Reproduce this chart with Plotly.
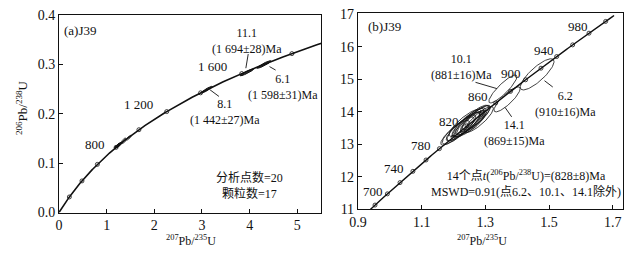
import numpy as np
import plotly.graph_objects as go

# ---------------- data ----------------
L238 = 1.55125e-10   # decay constant 238U
L235 = 9.8485e-10    # decay constant 235U

# concordia age marks (Ma)
left_mark_ages = [200, 400, 600, 800, 1000, 1200, 1400, 1600, 1800]
left_label_text = ["800", "1 200", "1 600"]
right_mark_ages = [680, 700, 720, 740, 760, 780, 800, 820, 840, 860, 880, 900,
                   920, 940, 960, 980, 1000]
right_label_ages = [700, 740, 780, 820, 860, 900, 940, 980]

# analysis ellipses (207Pb/235U, 206Pb/238U x100) - half extents and correlation
spot_name = ["c1", "c2", "c3", "c4", "c5", "c6", "c7", "c8", "c9", "c10", "c11", "c12",
             "c13", "c14", "10.1", "14.1", "6.2"]
pb207_u235 = [1.215, 1.225, 1.232, 1.240, 1.245, 1.250, 1.255, 1.258, 1.262, 1.268,
              1.272, 1.236, 1.280, 1.205, 1.355, 1.368, 1.4625]
err_207_235 = [0.050, 0.045, 0.055, 0.042, 0.050, 0.048, 0.045, 0.052, 0.040, 0.046,
               0.044, 0.050, 0.045, 0.045, 0.044, 0.041, 0.053]
pb206_u238 = [13.42, 13.50, 13.55, 13.60, 13.66, 13.62, 13.70, 13.74, 13.68, 13.78,
              13.82, 13.66, 13.76, 13.35, 14.70, 14.38, 15.15]
err_206_238 = [0.42, 0.40, 0.45, 0.38, 0.44, 0.40, 0.42, 0.46, 0.36, 0.40,
               0.38, 0.42, 0.40, 0.38, 0.43, 0.385, 0.48]
rho = [0.85, 0.85, 0.88, 0.83, 0.86, 0.84, 0.87, 0.86, 0.82, 0.85,
       0.84, 0.86, 0.85, 0.85, 0.88, 0.85, 0.82]

# old (inherited) grains, only in panel (a)
old_name = ["8.1", "11.1", "6.1"]
old_207_235 = [3.10, 3.94, 4.30]
old_err_207_235 = [0.12, 0.14, 0.15]
old_206_238 = [0.249, 0.284, 0.300]
old_err_206_238 = [0.0068, 0.0068, 0.0078]
old_rho = [0.93, 0.93, 0.93]

# ---------------- helpers ----------------
W, H = 626, 256


def conc(age_ma):
    t = np.asarray(age_ma, dtype=float) * 1e6
    return np.exp(L235 * t) - 1.0, np.exp(L238 * t) - 1.0


def ellipse(cx, cy, sx, sy, r, n=90):
    th = np.linspace(0, 2 * np.pi, n)
    x = cx + sx * np.cos(th)
    y = cy + sy * (r * np.cos(th) + np.sqrt(1 - r * r) * np.sin(th))
    return x, y


def P(px, py):
    return px / W, 1 - py / H


SERIF = "Liberation Serif, Times New Roman, serif"
CJK = "Liberation Serif, Noto Sans CJK SC"
BLACK = "#111111"

fig = go.Figure()

# ---------------- panel (a) ----------------
ages_a = np.linspace(0, 1950, 400)
cxa, cya = conc(ages_a)
fig.add_trace(go.Scatter(x=cxa, y=cya, mode="lines", line=dict(color=BLACK, width=1.6),
                         xaxis="x", yaxis="y", hoverinfo="skip"))
mx, my = conc(left_mark_ages)
fig.add_trace(go.Scatter(x=mx, y=my, mode="markers",
                         marker=dict(symbol="circle-open", size=4, color=BLACK, line=dict(width=0.8)),
                         xaxis="x", yaxis="y", hoverinfo="skip"))
for i in range(len(pb207_u235)):
    ex, ey = ellipse(pb207_u235[i], pb206_u238[i] / 100, err_207_235[i], err_206_238[i] / 100, rho[i])
    fig.add_trace(go.Scatter(x=ex, y=ey, mode="lines", line=dict(color=BLACK, width=0.8),
                             xaxis="x", yaxis="y", hoverinfo="skip"))
for i in range(len(old_name)):
    ex, ey = ellipse(old_207_235[i], old_206_238[i], old_err_207_235[i], old_err_206_238[i], old_rho[i])
    fig.add_trace(go.Scatter(x=ex, y=ey, mode="lines", line=dict(color=BLACK, width=1.0),
                             fill="toself", fillcolor="rgba(20,20,20,0.85)",
                             xaxis="x", yaxis="y", hoverinfo="skip"))

# ---------------- panel (b) ----------------
ages_b = np.linspace(640, 1010, 200)
cxb, cyb = conc(ages_b)
fig.add_trace(go.Scatter(x=cxb, y=cyb * 100, mode="lines", line=dict(color=BLACK, width=1.4),
                         xaxis="x2", yaxis="y2", hoverinfo="skip"))
mx2, my2 = conc(right_mark_ages)
fig.add_trace(go.Scatter(x=mx2, y=my2 * 100, mode="markers",
                         marker=dict(symbol="circle-open", size=4, color=BLACK, line=dict(width=0.8)),
                         xaxis="x2", yaxis="y2", hoverinfo="skip"))
for i in range(len(pb207_u235)):
    ex, ey = ellipse(pb207_u235[i], pb206_u238[i], err_207_235[i], err_206_238[i], rho[i])
    fig.add_trace(go.Scatter(x=ex, y=ey, mode="lines", line=dict(color=BLACK, width=0.8),
                             xaxis="x2", yaxis="y2", hoverinfo="skip"))

# ---------------- axes ----------------
axis_common = dict(showline=True, linecolor=BLACK, linewidth=1, mirror=True,
                   ticks="inside", ticklen=4, tickwidth=1, tickcolor=BLACK,
                   showgrid=False, zeroline=False,
                   tickfont=dict(family=SERIF, size=14, color=BLACK))

fig.update_layout(
    width=W, height=H,
    margin=dict(l=0, r=0, t=0, b=0, pad=0),
    paper_bgcolor="white", plot_bgcolor="white",
    showlegend=False,
    font=dict(family=SERIF, color=BLACK),
    xaxis=dict(domain=[50.7 / W, 316.7 / W], range=[0, 5.5], tickvals=[0, 1, 2, 3, 4, 5],
               anchor="y", **axis_common),
    yaxis=dict(domain=[1 - 218.3 / H, 1 - 8.7 / H], range=[0, 0.4],
               tickvals=[0, 0.1, 0.2, 0.3, 0.4], tickformat=".1f", anchor="x", **axis_common),
    xaxis2=dict(domain=[354 / W, 623.3 / W], range=[0.9, 1.733],
                tickvals=[0.9, 1.1, 1.3, 1.5, 1.7], tickformat=".1f", anchor="y2", **axis_common),
    yaxis2=dict(domain=[1 - 214.7 / H, 1 - 6.7 / H], range=[11, 17.03],
                tickvals=[11, 12, 13, 14, 15, 16, 17], anchor="x2", **axis_common),
)


# ---------------- text ----------------
def txt(text, px, py, size=13, xanchor="center", family=SERIF, angle=0):
    x, y = P(px, py)
    fig.add_annotation(text=text, x=x, y=y, xref="paper", yref="paper", showarrow=False,
                       xanchor=xanchor, yanchor="middle", textangle=angle, borderpad=0,
                       font=dict(family=family, size=size, color=BLACK))


def leader(p0, p1):
    x0, y0 = P(*p0)
    x1, y1 = P(*p1)
    fig.add_shape(type="line", x0=x0, y0=y0, x1=x1, y1=y1, xref="paper", yref="paper",
                  line=dict(color=BLACK, width=0.9))


# panel (a)
txt("(a)J39", 55, 25, xanchor="left")
for (lab, pos) in zip(left_label_text, [(87.7, 145.7), (131.7, 104), (206.7, 62.7)]):
    txt(lab, *pos)
txt("11.1<br>(1 694±28)Ma", 241, 36.5, size=12)
txt("6.1<br>(1 598±31)Ma", 278, 84.5, size=12)
txt("8.1<br>(1 442±27)Ma", 219.5, 112, size=12)
txt("分析点数=20<br>颗粒数=17", 209, 189.3, size=12, xanchor="left", family=CJK)
leader((242.7, 50), (240.3, 65))
leader((264.3, 63.3), (270.5, 67))
leader((204, 88), (213, 95))
txt("<sup>207</sup>Pb/<sup>235</sup>U", 185, 248, size=12)
txt("<sup>206</sup>Pb/<sup>238</sup>U", 12.5, 107, angle=-90)

# panel (b)
txt("(b)J39", 363.3, 20.7, xanchor="left")
for lab, pos in zip(right_label_ages, [(369, 196), (391, 171.7), (418.3, 146.7), (446.7, 121.7),
                                       (475.7, 95), (509, 70.7), (543.3, 46), (577.7, 20.7)]):
    txt(str(lab), *pos)
txt("10.1<br>(881±16)Ma", 459, 64, size=12)
txt("6.2<br>(910±16)Ma", 565, 103, size=12)
txt("14.1<br>(869±15)Ma", 513.3, 134, size=12)
txt("14个点<i>t</i>(<sup>206</sup>Pb/<sup>238</sup>U)=(828±8)Ma<br>MSWD=0.91(点6.2、10.1、14.1除外)",
    426.7, 187.5, size=12, xanchor="left", family=CJK)
leader((473.3, 80), (495, 86.7))
leader((543.3, 78.3), (551.7, 85))
leader((503.3, 106.7), (510, 116.7))
txt("<sup>207</sup>Pb/<sup>235</sup>U", 480, 248, size=12)

fig.write_html("out.html", config={"displayModeBar": False},
               post_script="document.body.style.margin='0';")
